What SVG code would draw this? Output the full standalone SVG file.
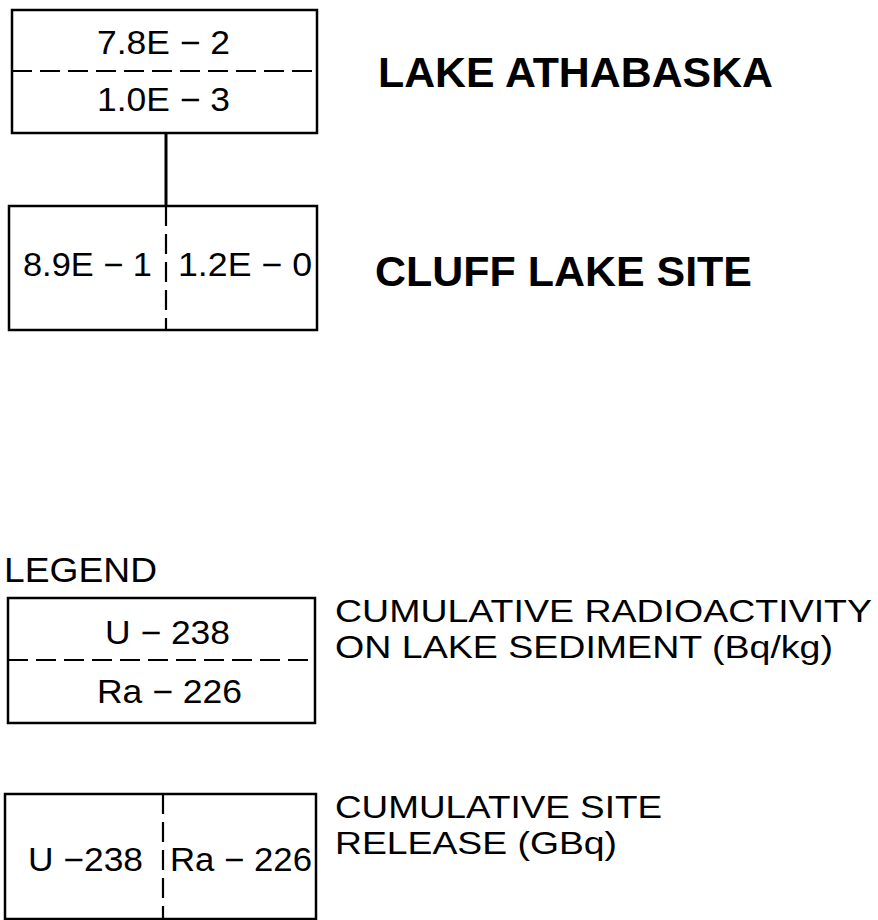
<svg xmlns="http://www.w3.org/2000/svg" width="878" height="920" viewBox="0 0 878 920">
<style>
.box{fill:none;stroke:#000;stroke-width:2.5}
.dash{fill:none;stroke:#000;stroke-width:2.2;stroke-dasharray:20 8}
.conn{fill:none;stroke:#000;stroke-width:3}
.v{font-family:"Liberation Sans",Arial,sans-serif;font-size:33px;fill:#000}
.t{font-family:"Liberation Sans",Arial,sans-serif;font-size:42px;font-weight:bold;fill:#000}
.l{font-family:"Liberation Sans",Arial,sans-serif;font-size:35px;fill:#000}
.l2{font-family:"Liberation Sans",Arial,sans-serif;font-size:31.5px;fill:#000}
</style>
<rect width="878" height="920" fill="#fff"/>
<g id="connectors">
<line class="conn" x1="166" y1="133" x2="166" y2="206"/>
</g>
<g id="lake-athabaska">
<rect class="box" x="12" y="10" width="305" height="123"/>
<line class="dash" x1="12" y1="71" x2="317" y2="71"/>
<text class="v" x="97" y="54" textLength="133" lengthAdjust="spacingAndGlyphs">7.8E − 2</text>
<text class="v" x="97" y="111" textLength="133" lengthAdjust="spacingAndGlyphs">1.0E − 3</text>
<text class="t" x="378" y="87" textLength="395" lengthAdjust="spacingAndGlyphs">LAKE ATHABASKA</text>
</g>
<g id="cluff-lake-site">
<rect class="box" x="9" y="206" width="308" height="124"/>
<line class="dash" x1="166" y1="206" x2="166" y2="330"/>
<text class="v" x="23" y="276" textLength="129" lengthAdjust="spacingAndGlyphs">8.9E − 1</text>
<text class="v" x="178" y="276" textLength="134" lengthAdjust="spacingAndGlyphs">1.2E − 0</text>
<text class="t" x="375" y="286" textLength="377" lengthAdjust="spacingAndGlyphs">CLUFF LAKE SITE</text>
</g>
<g id="legend">
<text class="l" x="4" y="582" textLength="153" lengthAdjust="spacingAndGlyphs">LEGEND</text>
</g>
<g id="legend-sediment">
<rect class="box" x="8" y="598" width="307" height="125"/>
<line class="dash" x1="8" y1="660" x2="315" y2="660"/>
<text class="v" x="105" y="644" textLength="125" lengthAdjust="spacingAndGlyphs">U − 238</text>
<text class="v" x="97" y="703" textLength="145" lengthAdjust="spacingAndGlyphs">Ra − 226</text>
<text class="l2" x="335" y="622" textLength="537" lengthAdjust="spacingAndGlyphs">CUMULATIVE RADIOACTIVITY</text>
<text class="l2" x="335" y="658" textLength="498" lengthAdjust="spacingAndGlyphs">ON LAKE SEDIMENT (Bq/kg)</text>
</g>
<g id="legend-release">
<rect class="box" x="5" y="794" width="311" height="125"/>
<line class="dash" x1="163" y1="794" x2="163" y2="919"/>
<text class="v" x="28" y="871" textLength="115" lengthAdjust="spacingAndGlyphs">U −238</text>
<text class="v" x="170" y="871" textLength="142" lengthAdjust="spacingAndGlyphs">Ra − 226</text>
<text class="l2" x="335" y="818" textLength="327" lengthAdjust="spacingAndGlyphs">CUMULATIVE SITE</text>
<text class="l2" x="335" y="854" textLength="282" lengthAdjust="spacingAndGlyphs">RELEASE (GBq)</text>
</g>
</svg>
